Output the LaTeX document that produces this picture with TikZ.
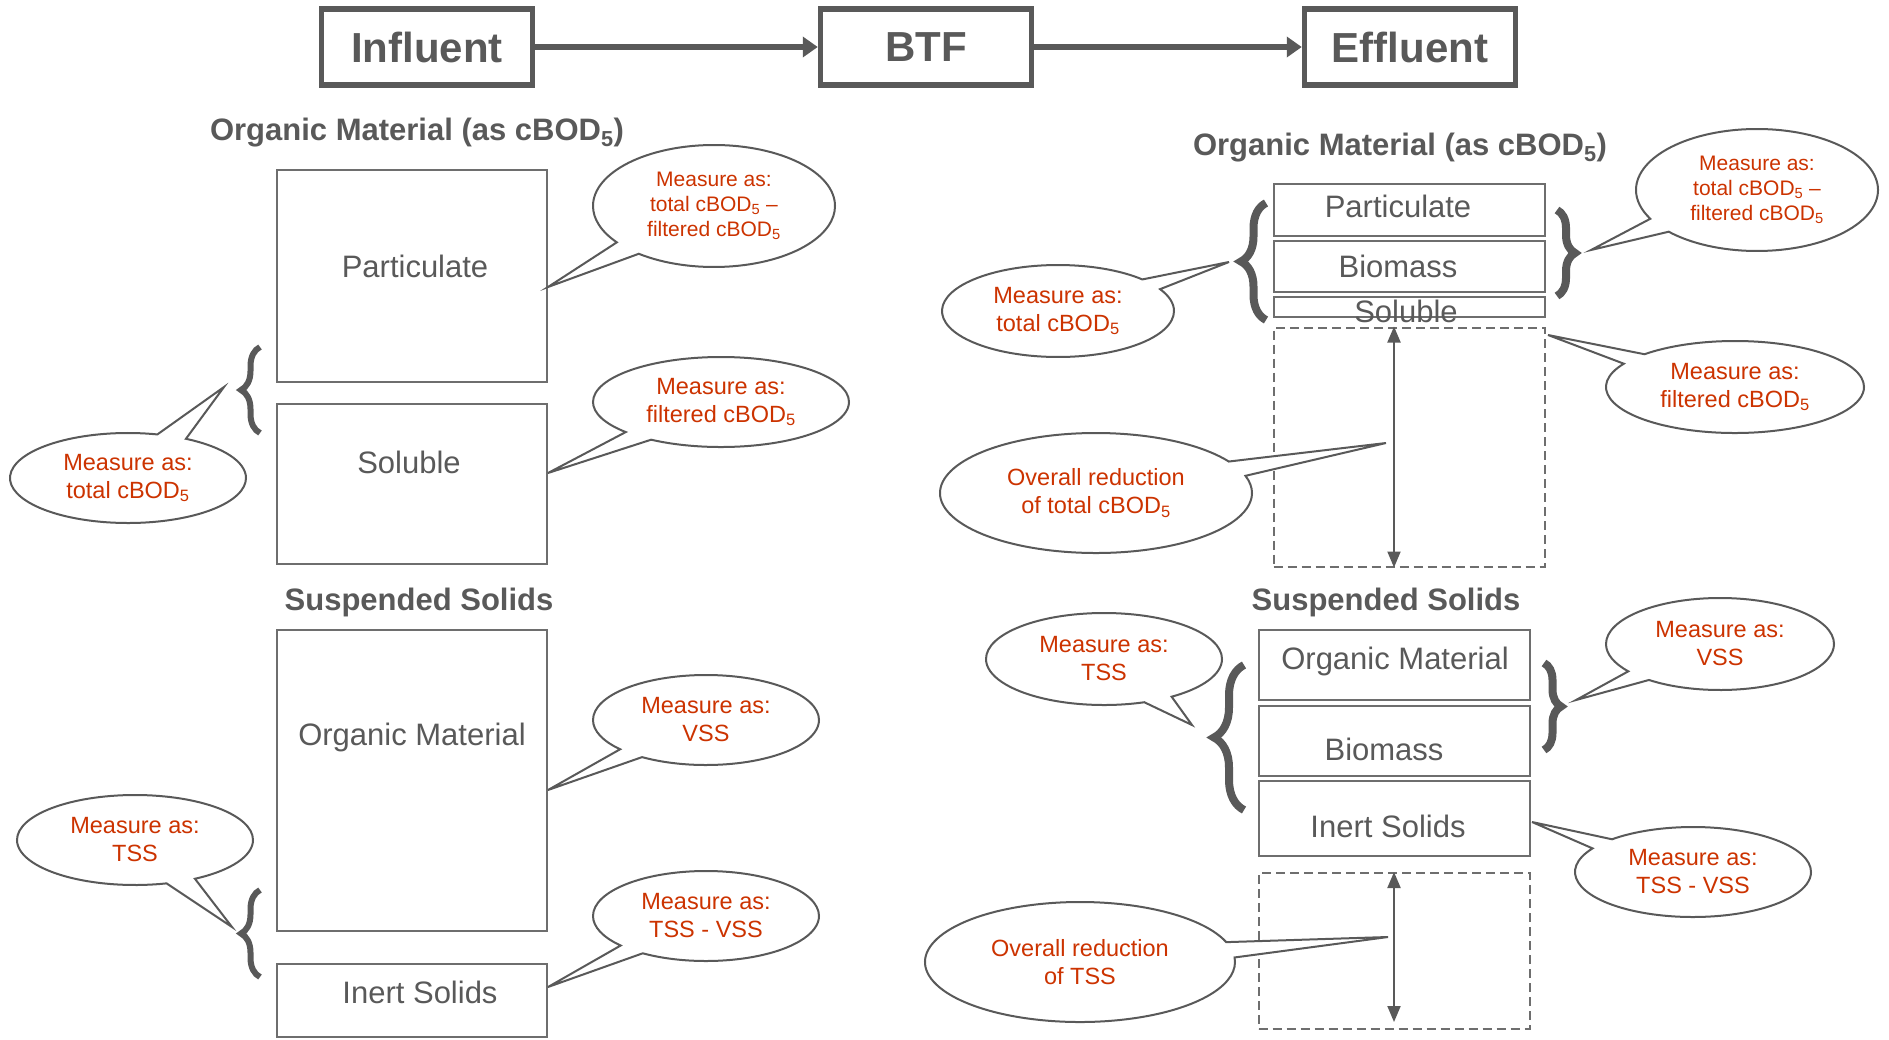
\documentclass[tikz,border=0pt]{standalone}
\usepackage{fontspec}
\setmainfont{Liberation Sans}
\usetikzlibrary{shapes.callouts,arrows.meta,decorations.pathreplacing}
\definecolor{gray6}{HTML}{595959}
\definecolor{gray7}{HTML}{6E6E6E}
\definecolor{red3}{HTML}{CC3300}

\begin{document}
\begin{tikzpicture}[x=1pt, y=-1pt,
  topbox/.style={draw=gray6, line width=5.5pt, minimum width=211pt, minimum height=76pt, text=gray6, font=\fontsize{42}{50}\selectfont\bfseries},
  cell/.style={draw=gray7, line width=2pt, minimum width=270pt},
  dashcell/.style={cell, dash pattern=on 9pt off 5pt},
  heading/.style={anchor=base, text=gray6, font=\fontsize{31}{37}\selectfont\bfseries},
  lbl/.style={anchor=base, text=gray6, font=\fontsize{31}{37}\selectfont},
  bubble/.style={ellipse callout, draw=gray6, line width=2pt, fill=white, text=red3, align=center, inner sep=0pt, callout pointer arc=15, font=\fontsize{23.5}{28}\selectfont},
  bubblesm/.style={bubble, font=\fontsize{21}{25}\selectfont},
  flowarrow/.style={draw=gray6, line width=6pt, -{Triangle[length=15pt,width=20pt]}},
  reduction/.style={draw=gray6, line width=2pt, {Triangle[length=16pt,width=13pt]}-{Triangle[length=16pt,width=13pt]}},
  curly/.style={draw=gray6, decorate, decoration={brace, amplitude=#1}}]
\useasboundingbox (0,0) rectangle (1889,1039);

\node[topbox] (infl) at (427,47) {Influent};
\node[topbox] (btf) at (926,47) {BTF};
\node[topbox] (effl) at (1410,47) {Effluent};
\draw[flowarrow] (infl) -- (btf);
\draw[flowarrow] (btf) -- (effl);

% influent
\node[heading] (omhead1) at (417,140) {Organic Material (as cBOD\textsubscript{5})};
\node[cell, minimum height=212pt] (part1) at (412,276) {};
\node[cell, minimum height=160pt] (sol1) at (412,484) {};
\node[lbl] (partlbl1) at (415,277) {Particulate};
\node[lbl] (sollbl1) at (409,473) {Soluble};
\draw[curly=19pt, line width=6pt] (260,433) -- (260,347);

\node[heading] (sshead1) at (419,610) {Suspended Solids};
\node[cell, minimum height=301pt] (om1) at (412,780) {};
\node[cell, minimum height=73pt] (inert1) at (412,1000) {};
\node[lbl] (omlbl1) at (412,745) {Organic Material};
\node[lbl] (inertlbl1) at (420,1003) {Inert Solids};
\draw[curly=19pt, line width=6pt] (260,977) -- (260,890);

\coordinate (tip1) at (548,287);
\coordinate (tip2) at (224,387);
\coordinate (tip3) at (548,473);
\coordinate (tip4) at (232,927);
\coordinate (tip5) at (548,790);
\coordinate (tip6) at (548,987);
\node[bubblesm, minimum width=242pt, minimum height=122pt, callout absolute pointer={(tip1)}] (msr1) at (714,206) {Measure as:\\total cBOD\textsubscript{5} --\\filtered cBOD\textsubscript{5}};
\node[bubble, minimum width=236pt, minimum height=90pt, callout absolute pointer={(tip2)}] (msr2) at (128,478) {Measure as:\\total cBOD\textsubscript{5}};
\node[bubble, minimum width=256pt, minimum height=90pt, callout absolute pointer={(tip3)}] (msr3) at (721,402) {Measure as:\\filtered cBOD\textsubscript{5}};
\node[bubble, minimum width=236pt, minimum height=90pt, callout absolute pointer={(tip4)}] (msr4) at (135,840) {Measure as:\\TSS};
\node[bubble, minimum width=226pt, minimum height=90pt, callout absolute pointer={(tip5)}] (msr5) at (706,720) {Measure as:\\VSS};
\node[bubble, minimum width=226pt, minimum height=90pt, callout absolute pointer={(tip6)}] (msr6) at (706,916) {Measure as:\\TSS - VSS};

% effluent
\node[heading] (omhead2) at (1400,155) {Organic Material (as cBOD\textsubscript{5})};
\node[cell, minimum width=271pt, minimum height=52pt] (part2) at (1409,210) {};
\node[cell, minimum width=271pt, minimum height=51pt] (bio2) at (1409,266) {};
\node[cell, minimum width=271pt, minimum height=20pt] (sol2) at (1409,307) {};
\node[dashcell, minimum width=271pt, minimum height=239pt] (drop2) at (1409,447) {};
\node[lbl] (partlbl2) at (1398,217) {Particulate};
\node[lbl] (biolbl2) at (1398,277) {Biomass};
\node[lbl] (sollbl2) at (1406,322) {Soluble};
\draw[reduction] ([xshift=-15pt]drop2.north) -- ([xshift=-15pt]drop2.south);
\draw[curly=25pt, line width=8pt] (1266,320) -- (1266,203);
\draw[curly=18pt, line width=8pt] (1557,210) -- (1557,296);

\node[heading] (sshead2) at (1386,610) {Suspended Solids};
\node[cell, minimum width=271pt, minimum height=70pt] (om2) at (1394,665) {};
\node[cell, minimum width=271pt, minimum height=70pt] (bio3) at (1394,741) {};
\node[cell, minimum width=271pt, minimum height=75pt] (inert2) at (1394,818) {};
\node[dashcell, minimum width=271pt, minimum height=156pt] (drop3) at (1394,951) {};
\node[lbl] (omlbl2) at (1395,669) {Organic Material};
\node[lbl] (biolbl3) at (1384,760) {Biomass};
\node[lbl] (inertlbl2) at (1388,837) {Inert Solids};
\draw[reduction] (drop3.north) -- ([yshift=8pt]drop3.south);
\draw[curly=30pt, line width=8pt] (1244,810) -- (1244,665);
\draw[curly=17pt, line width=8pt] (1544,663) -- (1544,750);

\coordinate (tip7) at (1591,250);
\coordinate (tip8) at (1229,262);
\coordinate (tip9) at (1548,335);
\coordinate (tip10) at (1386,443);
\coordinate (tip11) at (1192,725);
\coordinate (tip12) at (1576,700);
\coordinate (tip13) at (1532,822);
\coordinate (tip14) at (1388,937);
\node[bubblesm, minimum width=242pt, minimum height=122pt, callout absolute pointer={(tip7)}] (msr7) at (1757,190) {Measure as:\\total cBOD\textsubscript{5} --\\filtered cBOD\textsubscript{5}};
\node[bubble, minimum width=232pt, minimum height=92pt, callout absolute pointer={(tip8)}] (msr8) at (1058,311) {Measure as:\\total cBOD\textsubscript{5}};
\node[bubble, minimum width=258pt, minimum height=92pt, callout absolute pointer={(tip9)}] (msr9) at (1735,387) {Measure as:\\filtered cBOD\textsubscript{5}};
\node[bubble, minimum width=312pt, minimum height=120pt, callout absolute pointer={(tip10)}] (cut1) at (1096,493) {Overall reduction\\of total cBOD\textsubscript{5}};
\node[bubble, minimum width=236pt, minimum height=92pt, callout absolute pointer={(tip11)}] (msr10) at (1104,659) {Measure as:\\TSS};
\node[bubble, minimum width=228pt, minimum height=92pt, callout absolute pointer={(tip12)}] (msr11) at (1720,644) {Measure as:\\VSS};
\node[bubble, minimum width=236pt, minimum height=90pt, callout absolute pointer={(tip13)}] (msr12) at (1693,872) {Measure as:\\TSS - VSS};
\node[bubble, minimum width=310pt, minimum height=120pt, callout absolute pointer={(tip14)}] (cut2) at (1080,962) {Overall reduction\\of TSS};
\end{tikzpicture}
\end{document}
